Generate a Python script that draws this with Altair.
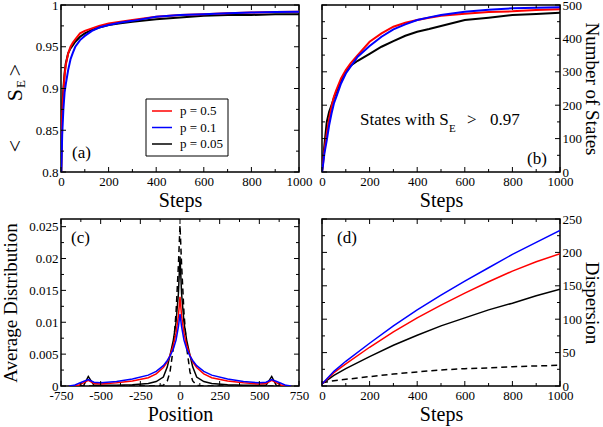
import altair as alt
import pandas as pd

FONT = "Liberation Serif, Times New Roman, serif"
W, H = 238, 167
RED, BLUE, BLACK = "#ff0000", "#0000ff", "#000000"

# ---------------- Panel (a): <S_E> vs steps ----------------
steps_a = [1, 3, 5, 10, 15, 20, 30, 40, 50, 60, 80, 100, 130, 160, 200, 250, 300, 400, 500, 600, 700, 800, 900, 1000]
se_p05 = [0.80, 0.84, 0.87, 0.895, 0.915, 0.928, 0.942, 0.950, 0.955, 0.959, 0.966, 0.969, 0.972, 0.975, 0.978, 0.980, 0.982, 0.986, 0.988, 0.989, 0.990, 0.991, 0.9915, 0.992]
se_p01 = [0.80, 0.82, 0.845, 0.875, 0.895, 0.905, 0.922, 0.935, 0.943, 0.950, 0.958, 0.963, 0.969, 0.973, 0.976, 0.979, 0.981, 0.986, 0.988, 0.989, 0.990, 0.991, 0.9915, 0.992]
se_p005 = [0.80, 0.85, 0.875, 0.90, 0.918, 0.930, 0.942, 0.948, 0.952, 0.956, 0.962, 0.966, 0.970, 0.973, 0.976, 0.978, 0.980, 0.983, 0.985, 0.987, 0.988, 0.988, 0.989, 0.989]

# ---------------- Panel (b): number of states ----------------
steps_b = [0, 5, 10, 20, 30, 40, 50, 60, 80, 100, 120, 150, 200, 250, 300, 350, 400, 450, 500, 600, 700, 800, 900, 1000]
ns_p05 = [0, 30, 65, 115, 160, 195, 225, 245, 280, 305, 325, 350, 390, 415, 435, 447, 455, 462, 468, 474, 479, 481, 485, 487]
ns_p01 = [0, 25, 55, 95, 140, 175, 205, 225, 265, 295, 315, 345, 377, 405, 427, 442, 455, 463, 470, 480, 486, 490, 492, 493]
ns_p005 = [0, 40, 80, 150, 180, 200, 222, 240, 272, 298, 318, 333, 354, 375, 392, 408, 420, 428, 437, 455, 462, 470, 473, 477]

# ---------------- Panel (c): average distribution ----------------
pos_c = [-700, -668, -640, -609, -578, -542, -500, -400, -300, -200, -150, -105, -80, -63, -42, -25, -10, 0,
         10, 25, 42, 63, 80, 105, 150, 200, 300, 400, 500, 542, 578, 609, 640, 668, 700]
ad_p005 = [0, 0, 0, 0, 0.0015, 0.0001, 0.0001, 0.0001, 0.0002, 0.0004, 0.0007, 0.0014, 0.0030, 0.0048, 0.0072, 0.0100, 0.0145, 0.0203,
           0.0145, 0.0100, 0.0072, 0.0048, 0.0030, 0.0014, 0.0007, 0.0004, 0.0002, 0.0001, 0.0001, 0.0001, 0.0015, 0, 0, 0, 0]
ad_p05 = [0, 0, 0.0001, 0.0005, 0.0009, 0.0004, 0.0003, 0.0005, 0.0008, 0.0013, 0.0019, 0.0029, 0.0038, 0.0048, 0.0064, 0.0083, 0.0110, 0.0140,
          0.0110, 0.0083, 0.0064, 0.0048, 0.0038, 0.0029, 0.0019, 0.0013, 0.0008, 0.0005, 0.0003, 0.0004, 0.0009, 0.0005, 0.0001, 0, 0]
ad_p01 = [0, 0.0001, 0.0004, 0.0007, 0.0010, 0.0006, 0.0005, 0.0007, 0.0011, 0.0017, 0.0023, 0.0032, 0.0040, 0.0047, 0.0058, 0.0072, 0.0093, 0.0113,
          0.0093, 0.0072, 0.0058, 0.0047, 0.0040, 0.0032, 0.0023, 0.0017, 0.0011, 0.0007, 0.0005, 0.0006, 0.0010, 0.0007, 0.0004, 0.0001, 0]
ad_ref = [0, 0, 0, 0, 0, 0, 0, 0, 0, 0, 0, 0.0001, 0.0008, 0.0022, 0.0060, 0.0115, 0.0190, 0.0252,
          0.0190, 0.0115, 0.0060, 0.0022, 0.0008, 0.0001, 0, 0, 0, 0, 0, 0, 0, 0, 0, 0, 0]

# ---------------- Panel (d): dispersion ----------------
steps_d = [0, 50, 100, 200, 300, 400, 500, 600, 700, 800, 900, 1000]
dp_p01 = [3, 22, 37, 64, 90, 114, 136, 157, 177, 197, 215, 233]
dp_p05 = [3, 20, 33, 58, 81, 102, 121, 139, 156, 172, 186, 198]
dp_p005 = [3, 16, 26, 44, 61, 76, 90, 102, 114, 124, 135, 145]
dp_ref = [5, 8, 10, 14, 18, 21, 24, 26, 27, 29, 30, 31]

legend_labels = ["p = 0.5", "p = 0.1", "p = 0.05"]
legend_colors = [RED, BLUE, BLACK]

# tick values
steps_maj = [0, 200, 400, 600, 800, 1000]
steps_min = [100, 300, 500, 700, 900]
ya_maj = [0.8, 0.85, 0.9, 0.95, 1.0]
ya_min = [0.825, 0.875, 0.925, 0.975]
yb_maj = [0, 100, 200, 300, 400, 500]
yb_min = [50, 150, 250, 350, 450]
xc_maj = [-750, -500, -250, 0, 250, 500, 750]
xc_min = [-625, -375, -125, 125, 375, 625]
yc_maj = [0, 0.005, 0.01, 0.015, 0.02, 0.025]
yc_min = [0.0025, 0.0075, 0.0125, 0.0175, 0.0225]
yd_maj = [0, 50, 100, 150, 200, 250]
yd_min = [25, 75, 125, 175, 225]

LBL = "'' + datum.value"


def sc(dom):
    return alt.Scale(domain=dom, nice=False, zero=False)


class Panel:
    def __init__(self, dx, dy, xaxis, yaxis):
        self.dx, self.dy, self.xaxis, self.yaxis = dx, dy, xaxis, yaxis
        self.layers = []

    def X(self, f="x"):
        return alt.X(f + ":Q", scale=sc(self.dx), axis=self.xaxis)

    def Y(self, f="y"):
        return alt.Y(f + ":Q", scale=sc(self.dy), axis=self.yaxis)

    def line(self, xs, ys, color, width=1.5, dash=None):
        kw = dict(color=color, strokeWidth=width, clip=True)
        if dash:
            kw["strokeDash"] = dash
        self.layers.append(alt.Chart(pd.DataFrame({"x": xs, "y": ys})).mark_line(**kw).encode(
            x=self.X(), y=self.Y()))

    def ticks(self, xmaj, xmin, ymaj, ymin):
        for vals, L in ((xmaj, 5), (xmin, 3)):
            base = alt.Chart(pd.DataFrame({"x": vals})).mark_rule(color="black", strokeWidth=1)
            self.layers.append(base.encode(x=self.X(), y=alt.value(H), y2=alt.value(H - L)))
            self.layers.append(base.encode(x=self.X(), y=alt.value(0), y2=alt.value(L)))
        for vals, L in ((ymaj, 5), (ymin, 3)):
            base = alt.Chart(pd.DataFrame({"y": vals})).mark_rule(color="black", strokeWidth=1)
            self.layers.append(base.encode(y=self.Y(), x=alt.value(0), x2=alt.value(L)))
            self.layers.append(base.encode(y=self.Y(), x=alt.value(W), x2=alt.value(W - L)))

    def text(self, t, x, y, size=17, align="left", baseline="alphabetic", angle=0):
        self.layers.append(alt.Chart(pd.DataFrame({"t": [t]})).mark_text(
            font=FONT, fontSize=size, align=align, baseline=baseline, angle=angle, color="black"
        ).encode(text="t:N", x=alt.value(x), y=alt.value(y)))

    def chart(self):
        return alt.layer(*self.layers).properties(width=W, height=H)


def xaxis(title, vals):
    return alt.Axis(title=title, values=vals, labelPadding=3, titlePadding=2, labelExpr=LBL)


# ----- panel a
pa = Panel([0, 1000], [0.8, 1.0], xaxis("Steps", steps_maj),
           alt.Axis(title="", values=ya_maj, labelPadding=3, labelExpr=LBL))
pa.line(steps_a, se_p005, BLACK, 2)
pa.line(steps_a, se_p05, RED, 2)
pa.line(steps_a, se_p01, BLUE, 2)
pa.ticks(steps_maj, steps_min, ya_maj, ya_min)
pa.text("<", -46, 141, 22, "center", "middle", 270)
pa.text("S", -46, 90, 22, "center", "middle", 270)
pa.text("E", -40, 79, 13, "center", "middle", 270)
pa.text(">", -46, 65, 22, "center", "middle", 270)
pa.text("(a)", 11, 153, 17)
pa.layers.append(alt.Chart(pd.DataFrame({"a": [0]})).mark_rect(fill="white", stroke="black", strokeWidth=1).encode(
    x=alt.value(85), x2=alt.value(167), y=alt.value(94), y2=alt.value(151)))
for i, (lab, col) in enumerate(zip(legend_labels, legend_colors)):
    yy = 106 + i * 16.5
    pa.layers.append(alt.Chart(pd.DataFrame({"a": [0]})).mark_rule(color=col, strokeWidth=1.5).encode(
        x=alt.value(91), x2=alt.value(111), y=alt.value(yy)))
    pa.text(lab, 119, yy, 13, "left", "middle")

# ----- panel b
pb = Panel([0, 1000], [0, 500], xaxis("Steps", steps_maj),
           alt.Axis(title="Number of States", values=yb_maj, orient="right", labelPadding=2,
                    titlePadding=0, titleFontSize=19, labelExpr=LBL))
pb.line(steps_b, ns_p005, BLACK, 2)
pb.line(steps_b, ns_p05, RED, 2)
pb.line(steps_b, ns_p01, BLUE, 2)
pb.ticks(steps_maj, steps_min, yb_maj, yb_min)
pb.text("States with S", 38, 120, 17)
pb.text("E", 127, 127, 11)
pb.text(">", 145, 120, 17)
pb.text("0.97", 168, 120, 17)
pb.text("(b)", 205, 159, 17)

# ----- panel c
pc = Panel([-750, 750], [0, 0.0262], xaxis("Position", xc_maj),
           alt.Axis(title="Average Distribution", values=yc_maj, labelPadding=3, titlePadding=8,
                    titleFontSize=19, labelExpr=LBL))
pc.line(pos_c, ad_ref, BLACK, 1.5, [6, 4])
pc.line(pos_c, ad_p005, BLACK, 1.5)
pc.line(pos_c, ad_p05, RED, 1.5)
pc.line(pos_c, ad_p01, BLUE, 1.5)
pc.ticks(xc_maj, xc_min, yc_maj, yc_min)
pc.text("(c)", 10, 24, 17)

# ----- panel d
pdp = Panel([0, 1000], [0, 250], xaxis("Steps", steps_maj),
            alt.Axis(title="Dispersion", values=yd_maj, orient="right", labelPadding=2,
                     titlePadding=0, titleFontSize=19, labelExpr=LBL))
pdp.line(steps_d, dp_ref, BLACK, 1.5, [6, 4])
pdp.line(steps_d, dp_p005, BLACK, 1.5)
pdp.line(steps_d, dp_p05, RED, 1.5)
pdp.line(steps_d, dp_p01, BLUE, 1.5)
pdp.ticks(steps_maj, steps_min, yd_maj, yd_min)
pdp.text("(d)", 15, 24, 17)

chart = alt.ConcatChart(
    concat=[pa.chart(), pb.chart(), pc.chart(), pdp.chart()], columns=2,
    spacing=alt.RowColnumber(row=47, column=23), bounds="flush",
).properties(
    autosize=alt.AutoSizeParams(type="none"),
    padding={"left": 61, "top": 5, "right": 542, "bottom": 422},
).configure(font=FONT).configure_view(stroke="black", strokeWidth=1.5).configure_axis(
    labelFont=FONT, labelFontSize=13, labelColor="black",
    titleFont=FONT, titleFontSize=20, titleFontWeight="normal", titleColor="black",
    ticks=False, domain=False, grid=False, labelOverlap=False, labelFlush=False,
)

chart.save("out.html", embed_options={"renderer": "svg", "actions": False})
